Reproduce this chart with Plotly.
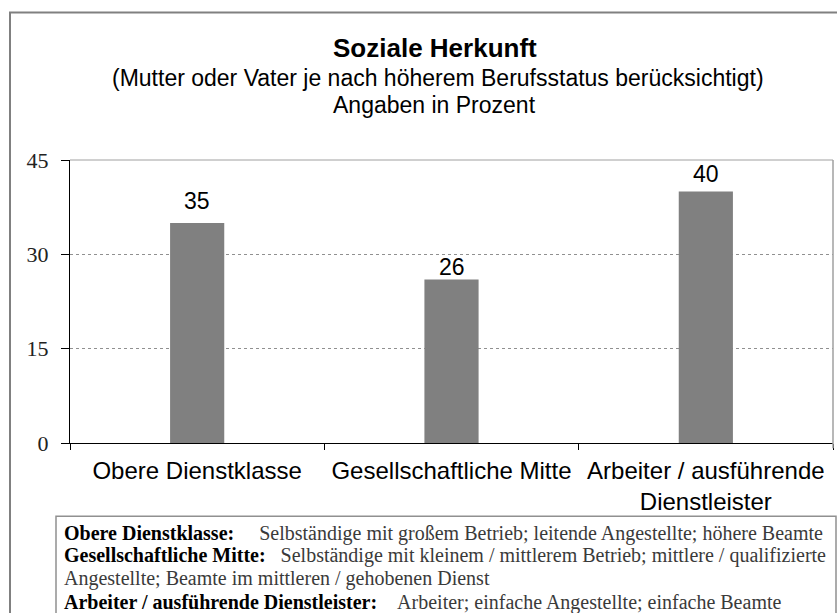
import plotly.graph_objects as go

# ---- data ----
categories = ["Obere Dienstklasse", "Gesellschaftliche Mitte", "Arbeiter / ausführende<br>Dienstleister"]
values = [35, 26, 40]
y_ticks = [0, 15, 30, 45]

title_text = "Soziale Herkunft"
subtitle_lines = ["(Mutter oder Vater je nach höherem Berufsstatus berücksichtigt)", "Angaben in Prozent"]

footer_labels = ["Obere Dienstklasse:", "Gesellschaftliche Mitte:", "", "Arbeiter / ausführende Dienstleister:"]
footer_texts = [
    "Selbständige mit großem Betrieb; leitende Angestellte; höhere Beamte",
    "Selbständige mit kleinem / mittlerem Betrieb; mittlere / qualifizierte",
    "Angestellte; Beamte im mittleren / gehobenen Dienst",
    "Arbeiter; einfache Angestellte; einfache Beamte",
]

# ---- layout geometry (pixels) ----
W, H = 837, 613
PL, PR, PT, PB = 70, 833, 159.5, 442.7


def px(x):
    return (x - PL) / (PR - PL)


def py(y):
    return (PB - y) / (PB - PT)


SANS = "Liberation Sans, Arial, sans-serif"
SERIF = "Liberation Serif, Times New Roman, serif"

fig = go.Figure()
fig.add_trace(go.Bar(
    x=categories, y=values,
    marker=dict(color="#808080", line=dict(width=0)),
    hoverinfo="x+y",
))

annotations = []
# value labels (label offsets as placed in the original)
label_shift = [7, -3, 2]
for c, v, s in zip(categories, values, label_shift):
    annotations.append(dict(x=c, y=v, xref="x", yref="y", text=str(v), showarrow=False,
                            yanchor="bottom", yshift=s,
                            font=dict(family=SANS, size=23, color="#000000")))

# titles
annotations.append(dict(x=px(435), y=py(47), xref="paper", yref="paper", text="<b>" + title_text + "</b>",
                        showarrow=False, xanchor="center", yanchor="middle",
                        font=dict(family=SANS, size=26, color="#000000")))
for line, yy, xx in zip(subtitle_lines, [77, 104], [438, 434]):
    annotations.append(dict(x=px(xx), y=py(yy), xref="paper", yref="paper", text=line,
                            showarrow=False, xanchor="center", yanchor="middle",
                            font=dict(family=SANS, size=23, color="#000000")))

# footer lines
footer_y = [533, 555, 578, 602]
footer_gap = [5, 3, 0, 4]
for lab, txt, yy, g in zip(footer_labels, footer_texts, footer_y, footer_gap):
    t = ""
    if lab:
        t = "<b>" + lab + "</b>" + "\u00a0" * g
    t += "<span style='color:#3a3a3a'>" + txt + "</span>"
    annotations.append(dict(x=px(62), y=py(yy), xref="paper", yref="paper", text=t,
                            showarrow=False, xanchor="left", yanchor="middle", align="left",
                            font=dict(family=SERIF, size=20, color="#000000")))

shapes = [
    # outer frame
    dict(type="rect", xref="paper", yref="paper", x0=px(10), x1=px(860), y0=py(640), y1=py(12),
         line=dict(color="#808080", width=2), layer="below"),
    # plot area top and right border
    dict(type="line", xref="paper", yref="paper", x0=0, x1=1, y0=1, y1=1,
         line=dict(color="#a0a0a0", width=1)),
    dict(type="line", xref="paper", yref="paper", x0=1, x1=1, y0=py(448), y1=1,
         line=dict(color="#a0a0a0", width=1.5)),
    # footer box
    dict(type="rect", xref="paper", yref="paper", x0=px(56), x1=px(836), y0=py(640), y1=py(516),
         line=dict(color="#909090", width=1.5), layer="below"),
]

fig.update_layout(
    width=W, height=H,
    margin=dict(l=PL, r=W - PR, t=PT, b=H - PB, pad=0),
    paper_bgcolor="white", plot_bgcolor="white",
    showlegend=False,
    bargap=0.787,
    annotations=annotations,
    shapes=shapes,
    xaxis=dict(
        type="category",
        showline=True, linecolor="#000000", linewidth=1,
        ticks="outside", tickson="boundaries", ticklen=6, tickcolor="#000000",
        showgrid=False,
        tickfont=dict(family=SANS, size=24, color="#000000"),
        ticklabelstandoff=6,
    ),
    yaxis=dict(
        range=[0, 45],
        tickvals=y_ticks,
        showline=True, linecolor="#000000", linewidth=1,
        ticks="outside", ticklen=8, tickcolor="#000000",
        showgrid=True, gridcolor="#909090", gridwidth=1, griddash="dot",
        zeroline=False,
        tickfont=dict(family=SERIF, size=22, color="#222222"),
        ticklabelstandoff=8,
    ),
)

fig.write_html("out.html", config={"displayModeBar": False},
               post_script="document.body.style.margin='0';document.body.style.overflow='hidden';")
